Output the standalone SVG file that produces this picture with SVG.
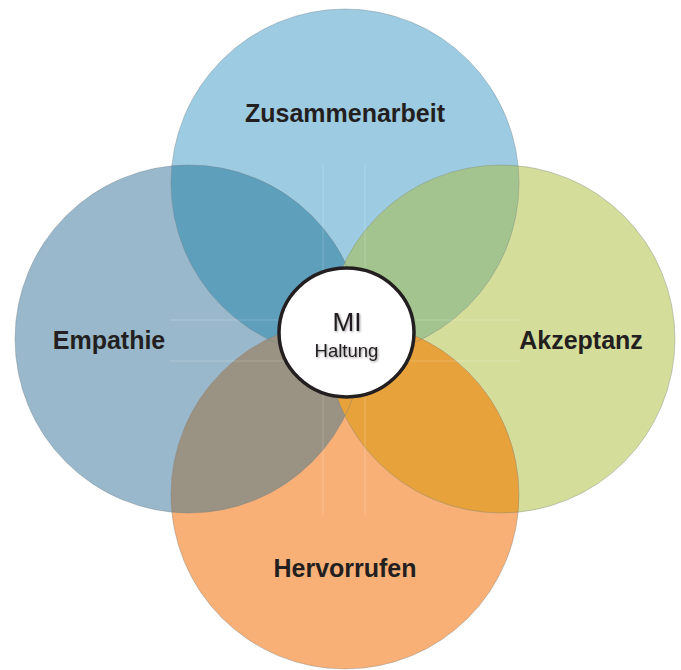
<svg xmlns="http://www.w3.org/2000/svg" width="681" height="670" viewBox="0 0 681 670">
  <style>
    .lbl { font-family: "Liberation Sans", Arial, sans-serif; font-weight: bold; font-size: 25px; fill: #231f20; text-anchor: middle; }
    .mid { font-family: "Liberation Sans", Arial, sans-serif; fill: #231f20; text-anchor: middle; }
    .edge { fill: none; stroke: #6d7a80; stroke-opacity: 0.35; stroke-width: 1; }
    .seam { stroke: #ffffff; stroke-opacity: 0.2; stroke-width: 1; }
  </style>
  <defs>
    <clipPath id="cT"><circle cx="345" cy="183" r="174"/></clipPath>
    <clipPath id="cL"><circle cx="189" cy="339" r="174"/></clipPath>
    <clipPath id="cR"><circle cx="501" cy="339" r="174"/></clipPath>
    <clipPath id="cB"><circle cx="345" cy="495" r="174"/></clipPath>
    <filter id="sh" x="-20%" y="-20%" width="140%" height="140%">
      <feDropShadow dx="1" dy="1" stdDeviation="1" flood-color="#000" flood-opacity="0.4"/>
    </filter>
  </defs>
  <rect width="681" height="670" fill="#ffffff"/>

  <g id="zusammenarbeit">
    <circle cx="345" cy="183" r="174" fill="#9dcbe2"/>
  </g>
  <g id="akzeptanz">
    <circle cx="501" cy="339" r="174" fill="#d5dd9b"/>
  </g>
  <g id="empathie">
    <circle cx="189" cy="339" r="174" fill="#99b8cb"/>
  </g>
  <g id="hervorrufen">
    <circle cx="345" cy="495" r="174" fill="#f8b076"/>
  </g>

  <g id="overlaps">
    <circle cx="501" cy="339" r="174" fill="#b9c7b4" clip-path="url(#cL)"/>
    <circle cx="345" cy="495" r="174" fill="#a79f98" clip-path="url(#cT)"/>
    <g clip-path="url(#cT)"><circle cx="189" cy="339" r="174" fill="#5e9fbc"/></g>
    <g clip-path="url(#cT)"><circle cx="501" cy="339" r="174" fill="#a3c48f"/></g>
    <g clip-path="url(#cB)"><circle cx="189" cy="339" r="174" fill="#9a9282"/></g>
    <g clip-path="url(#cB)"><circle cx="501" cy="339" r="174" fill="#e8a23b"/></g>
  </g>

  <g id="edges">
    <circle class="edge" cx="345" cy="183" r="174"/>
    <circle class="edge" cx="501" cy="339" r="174"/>
    <circle class="edge" cx="189" cy="339" r="174"/>
    <circle class="edge" cx="345" cy="495" r="174"/>
  </g>

  <g id="seams">
    <line class="seam" x1="323" y1="165" x2="323" y2="515"/>
    <line class="seam" x1="365" y1="165" x2="365" y2="515"/>
    <line class="seam" x1="170" y1="320" x2="520" y2="320"/>
    <line class="seam" x1="170" y1="361" x2="520" y2="361"/>
  </g>

  <g id="labels">
    <text class="lbl" x="345" y="122">Zusammenarbeit</text>
    <text class="lbl" x="109" y="349">Empathie</text>
    <text class="lbl" x="581" y="349">Akzeptanz</text>
    <text class="lbl" x="345" y="577">Hervorrufen</text>
  </g>

  <g id="mi-haltung">
    <ellipse cx="346.5" cy="332.5" rx="67.5" ry="64.5" fill="#ffffff" stroke="#231f20" stroke-width="3.5"/>
    <text class="mid" x="347" y="331" font-size="26" filter="url(#sh)">MI</text>
    <text class="mid" x="346.5" y="357" font-size="18.5" filter="url(#sh)">Haltung</text>
  </g>
</svg>
